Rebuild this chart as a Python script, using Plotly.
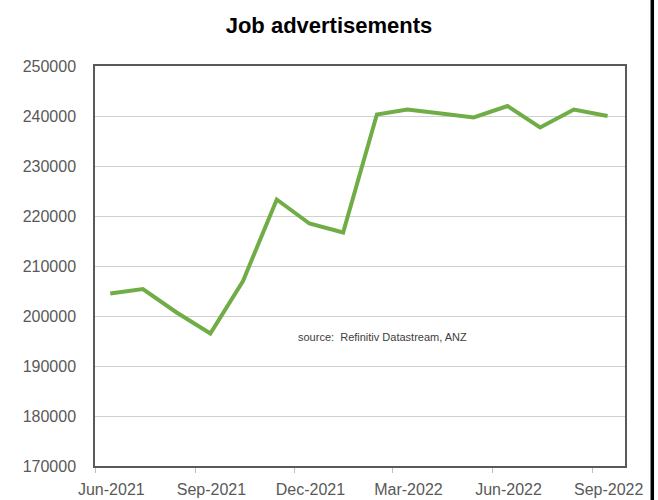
import plotly.graph_objects as go

months = ["2021-06-15", "2021-07-15", "2021-08-15", "2021-09-15", "2021-10-15", "2021-11-15",
          "2021-12-15", "2022-01-15", "2022-02-15", "2022-03-15", "2022-04-15", "2022-05-15",
          "2022-06-15", "2022-07-15", "2022-08-15", "2022-09-15"]
job_ads = [204500, 205400, 200700, 196500, 207000, 223300, 218500, 216700,
           240300, 241300, 240500, 239700, 242000, 237700, 241300, 240000]

tick_vals = ["2021-06-16", "2021-09-16", "2021-12-16", "2022-03-16", "2022-06-16", "2022-09-16"]
tick_text = ["Jun-2021", "Sep-2021", "Dec-2021", "Mar-2022", "Jun-2022", "Sep-2022"]
tick_marks = ["2021-06-01", "2021-09-01", "2021-12-01", "2022-03-01", "2022-06-01", "2022-09-01"]
y_ticks = [170000, 180000, 190000, 200000, 210000, 220000, 230000, 240000, 250000]

FONT = "Liberation Sans, Arial, sans-serif"

fig = go.Figure()
fig.add_trace(go.Scatter(x=months, y=job_ads, mode="lines",
                         line=dict(color="#70AD47", width=4), showlegend=False))

fig.update_layout(
    width=658, height=500,
    margin=dict(l=95, r=33, t=66, b=34, autoexpand=False),
    paper_bgcolor="white", plot_bgcolor="white",
    font=dict(family=FONT, color="#595959", size=16),
    title=dict(text="<b>Job advertisements</b>", x=0.5, xref="container", xanchor="center",
               y=0.95, yanchor="middle",
               font=dict(family=FONT, size=22, color="#000000")),
    xaxis=dict(type="date", range=["2021-06-01", "2022-10-01"],
               tickvals=tick_vals, ticktext=tick_text, ticks="", ticklen=0,
               showgrid=False, showline=True, linecolor="#595959", linewidth=1.5,
               mirror=True, zeroline=False, automargin=False, ticklabelstandoff=8,
               tickfont=dict(family=FONT, size=16, color="#595959"),
               minor=dict(tickvals=tick_marks, ticks="outside", ticklen=5,
                          tickcolor="#bfbfbf", showgrid=False)),
    yaxis=dict(range=[170000, 250000], tickvals=y_ticks, tickformat="d",
               showgrid=True, gridcolor="#d0d0d0", gridwidth=1,
               showline=True, linecolor="#595959", linewidth=1.5, mirror=True,
               zeroline=False, ticks="", ticklabelstandoff=14, automargin=False,
               tickfont=dict(family=FONT, size=16, color="#595959")),
    annotations=[dict(text="source:  Refinitiv Datastream, ANZ", xref="paper", yref="paper",
                      x=0.543, y=0.3225, xanchor="center", yanchor="middle", showarrow=False,
                      font=dict(family=FONT, size=11, color="#404040"))],
    shapes=[dict(type="line", xref="paper", yref="paper", x0=1.0515, x1=1.0515, y0=-0.1,
                 y1=1.2, line=dict(color="black", width=3.5))],
)

fig.write_html("out.html")
